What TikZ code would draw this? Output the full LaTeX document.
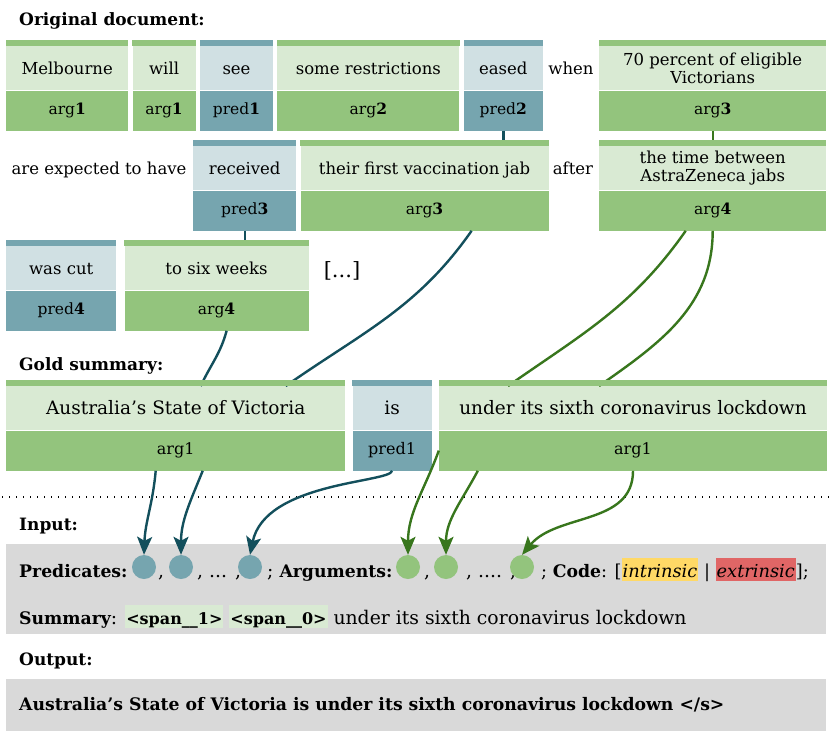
\documentclass[tikz,border=0pt]{standalone}
\usepackage{fontspec}
\setmainfont{DejaVu Serif}
\usetikzlibrary{positioning,calc,arrows.meta}

\definecolor{argdark}{HTML}{93C47D}
\definecolor{arglight}{HTML}{D9EAD3}
\definecolor{preddark}{HTML}{76A5AF}
\definecolor{predlight}{HTML}{D0E0E3}
\definecolor{arglinecol}{HTML}{38761D}
\definecolor{predlinecol}{HTML}{134F5C}
\definecolor{inputgray}{HTML}{D9D9D9}
\definecolor{intrcol}{HTML}{FFD966}
\definecolor{extrcol}{HTML}{E06666}

\newcommand{\hlbox}[2]{{\setlength{\fboxsep}{0pt}\colorbox{#1}{\rule[-4pt]{0pt}{23pt}\kern1pt#2\kern1pt}}}
\newcommand{\bft}[1]{{\fontsize{17.25}{20}\selectfont\bfseries #1}}
\newcommand{\spant}[1]{{\fontsize{16}{20}\selectfont\bfseries #1}}

\tikzset{
  tokbase/.style={inner sep=0pt, minimum height=44pt, anchor=north west, align=center,
    font=\fontsize{16.5}{18}\selectfont},
  tok/.style={tokbase, text height=12pt, text depth=0pt},
  argtok/.style={tok, fill=arglight, minimum width=#1pt},
  predtok/.style={tok, fill=predlight, minimum width=#1pt},
  argtwo/.style={tokbase, fill=arglight, minimum width=#1pt},
  lab/.style={inner sep=0pt, minimum height=40pt, anchor=north,
    font=\fontsize{15.5}{17}\selectfont, text height=8pt, text depth=0pt},
  arglab/.style={lab, fill=argdark, minimum width=#1pt},
  predlab/.style={lab, fill=preddark, minimum width=#1pt},
  big/.style={font=\fontsize{18.5}{20}\selectfont, text height=13.5pt},
  biglab/.style={font=\fontsize{16}{17}\selectfont, text height=8.3pt},
  plain/.style={inner sep=0pt, anchor=base, font=\fontsize{16.5}{18}\selectfont},
  heading/.style={inner sep=0pt, anchor=base west, font=\fontsize{17}{20}\selectfont\bfseries},
  intext/.style={inner sep=0pt, anchor=base west, font=\fontsize{18.8}{20}\selectfont},
  inbox/.style={fill=inputgray, inner sep=0pt, anchor=north west, minimum width=820pt},
  pdot/.style={circle, fill=preddark, minimum size=24pt, inner sep=0pt},
  adot/.style={circle, fill=argdark, minimum size=24pt, inner sep=0pt},
  predlink/.style={draw=predlinecol, line width=2.4pt},
  arglink/.style={draw=arglinecol, line width=2.4pt},
  predarrow/.style={predlink, -{Stealth[length=18pt, width=15pt, inset=4pt]}},
  argarrow/.style={arglink, -{Stealth[length=18pt, width=15pt, inset=4pt]}},
}

\begin{document}
\begin{tikzpicture}[x=1pt, y=-1pt]
  \useasboundingbox (0,0) rectangle (830,737);

  \node[heading] (h1) at (19,25) {Original document:};

  \node[argtok=122] (a1) at (6,46) {Melbourne};
  \node[arglab=122, below=0pt of a1] (a1l) {arg\textbf{1}};
  \node[argtok=63, right=4pt of a1] (a2) {will};
  \node[arglab=63, below=0pt of a2] (a2l) {arg\textbf{1}};
  \node[predtok=73, right=4pt of a2] (a3) {see};
  \node[predlab=73, below=0pt of a3] (a3l) {pred\textbf{1}};
  \node[argtok=182, right=4pt of a3] (a4) {some restrictions};
  \node[arglab=182, below=0pt of a4] (a4l) {arg\textbf{2}};
  \node[predtok=79, right=4pt of a4] (a5) {eased};
  \node[predlab=79, below=0pt of a5] (a5l) {pred\textbf{2}};
  \node[plain] (t1) at (571,74) {when};
  \node[argtwo=227] (a6) at (599,46) {70 percent of eligible\\Victorians};
  \node[arglab=227, below=0pt of a6] (a6l) {arg\textbf{3}};

  \node[plain] (t2) at (99,174) {are expected to have};
  \node[predtok=103] (b1) at (193,146) {received};
  \node[predlab=103, below=0pt of b1] (b1l) {pred\textbf{3}};
  \node[argtok=248, right=4pt of b1] (b2) {their first vaccination jab};
  \node[arglab=248, below=0pt of b2] (b2l) {arg\textbf{3}};
  \node[plain] (t3) at (573,174) {after};
  \node[argtwo=227] (b3) at (599,146) {the time between\\AstraZeneca jabs};
  \node[arglab=227, below=0pt of b3] (b3l) {arg\textbf{4}};

  \node[predtok=110] (c1) at (6,246) {was cut};
  \node[predlab=110, below=0pt of c1] (c1l) {pred\textbf{4}};
  \node[argtok=184, right=8pt of c1] (c2) {to six weeks};
  \node[arglab=184, below=0pt of c2] (c2l) {arg\textbf{4}};
  \node[plain, font=\fontsize{21}{22}\selectfont] (t4) at (342,277) {[...]};

  \node[heading] (h2) at (19,370) {Gold summary:};

  \node[argtok=339, big] (s1) at (6,386) {Australia’s State of Victoria};
  \node[arglab=339, biglab, below=0pt of s1] (s1l) {arg1};
  \node[predtok=79, big, right=7pt of s1] (s2) {is};
  \node[predlab=79, biglab, below=0pt of s2] (s2l) {pred1};
  \node[argtok=388, big, right=7pt of s2] (s3) {under its sixth coronavirus lockdown};
  \node[arglab=388, biglab, below=0pt of s3] (s3l) {arg1};

  \draw[predlink] (a5l.south) -- (a5l.south |- b2.north);
  \draw[arglink] (a6l.south) -- (b3.north);
  \draw[predlink] (b1l.south) -- (b1l.south |- c2.north);
  \draw[predlink] ([xshift=10pt]c2l.south) to[out=-105, in=65] ([xshift=25pt]s1.north);
  \draw[predlink] ([xshift=47pt]b2l.south) to[out=-125, in=35] ([xshift=110pt]s1.north);
  \draw[arglink] ([xshift=-27pt]b3l.south) to[out=-125, in=35] ([xshift=-125pt]s3.north);
  \draw[arglink] (b3l.south) to[out=-90, in=35] ([xshift=-34pt]s3.north);

  \foreach \n/\c in {a1/argdark, a2/argdark, a3/preddark, a4/argdark, a5/preddark, a6/argdark,
      b1/preddark, b2/argdark, b3/argdark, c1/preddark, c2/argdark,
      s1/argdark, s2/preddark, s3/argdark}
    \fill[\c] (\n.north west) rectangle ([yshift=6pt]\n.north east);

  \draw[line width=1.4pt, dash pattern=on 1.4pt off 5.6pt] (2,497) -- (830,497);

  \node[heading] (h3) at (19,530) {Input:};
  \node[inbox, minimum height=90pt] (ib1) at (6,544) {};
  \node[intext] (i1) at (19,577) {\bft{Predicates:}};
  \node[pdot] (p1) at (144,567) {};
  \node[intext] (i2) at (158,577) {,};
  \node[pdot] (p2) at (181,567) {};
  \node[intext] (i3) at (197,577) {, ... ,};
  \node[pdot] (p3) at (250,567) {};
  \node[intext] (i4) at (267,577) {; \bft{Arguments:}};
  \node[adot] (g1) at (408,567) {};
  \node[intext] (i5) at (424,577) {,};
  \node[adot] (g2) at (446,567) {};
  \node[intext] (i6) at (466,577) {, .... ,};
  \node[adot] (g3) at (522,567) {};
  \node[intext, font=\fontsize{17.8}{20}\selectfont] (i7) at (541,577) {; \bft{Code}: [\hlbox{intrcol}{\textit{intrinsic}} | \hlbox{extrcol}{\textit{extrinsic}}];};
  \node[intext] (i8) at (19,624) {\bft{Summary}: \hlbox{arglight}{\spant{<span\_\_1>}} \hlbox{arglight}{\spant{<span\_\_0>}} under its sixth coronavirus lockdown};

  \node[heading] (h4) at (19,665) {Output:};
  \node[inbox, minimum height=52pt] (ib2) at (6,679) {};
  \node[intext] (o1) at (19,710) {\bft{Australia’s State of Victoria is under its sixth coronavirus lockdown </s>}};

  \draw[predarrow] ([xshift=-20pt]s1l.south) to[out=-95, in=88] (p1.north);
  \draw[predarrow] ([xshift=27pt]s1l.south) to[out=-112, in=90] (p2.north);
  \draw[predarrow] (s2l.south) .. controls +(-2,12) and +(15,-73) .. (p3.north);
  \draw[argarrow] (s3l.west) to[out=-110, in=90] (g1.north);
  \draw[argarrow] ([xshift=39pt]s3l.south west) to[out=-118, in=90] (g2.north);
  \draw[argarrow] (s3l.south) to[out=-90, in=50] (g3.north);
\end{tikzpicture}
\end{document}
